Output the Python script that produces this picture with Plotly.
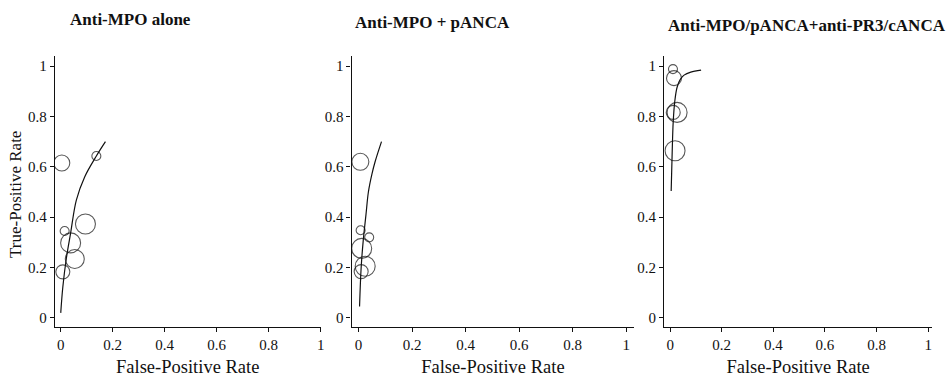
import plotly.graph_objects as go

# ---- data ----
panel_titles = ["Anti-MPO alone", "Anti-MPO + pANCA", "Anti-MPO/pANCA+anti-PR3/cANCA"]

# Panel 1: Anti-MPO alone (study points: FPR, TPR, bubble size)
p1_fpr = [0.004, 0.137, 0.015, 0.095, 0.038, 0.054, 0.008]
p1_tpr = [0.615, 0.643, 0.345, 0.373, 0.298, 0.234, 0.183]
p1_size = [16, 9, 9, 20, 20, 19, 14]
p1_curve_fpr = [0.0, 0.008, 0.022, 0.038, 0.060, 0.092, 0.137, 0.172]
p1_curve_tpr = [0.02, 0.123, 0.24, 0.337, 0.468, 0.56, 0.643, 0.70]

# Panel 2: Anti-MPO + pANCA
p2_fpr = [0.007, 0.008, 0.040, 0.012, 0.025, 0.010]
p2_tpr = [0.620, 0.348, 0.320, 0.276, 0.205, 0.184]
p2_size = [17, 9, 9, 20, 20, 14]
p2_curve_fpr = [0.004, 0.010, 0.018, 0.028, 0.037, 0.050, 0.062, 0.086]
p2_curve_tpr = [0.045, 0.20, 0.31, 0.41, 0.50, 0.57, 0.62, 0.70]

# Panel 3: Anti-MPO/pANCA + anti-PR3/cANCA
p3_fpr = [0.011, 0.015, 0.027, 0.012, 0.019]
p3_tpr = [0.988, 0.952, 0.816, 0.816, 0.664]
p3_size = [9, 15, 20, 14, 20]
p3_curve_fpr = [0.004, 0.008, 0.012, 0.018, 0.027, 0.040, 0.054, 0.080, 0.120]
p3_curve_tpr = [0.504, 0.66, 0.78, 0.86, 0.916, 0.948, 0.964, 0.976, 0.984]

x_tickvals = [0, 0.2, 0.4, 0.6, 0.8, 1]
x_ticktext = ["0", "0.2", "0.4", "0.6", "0.8", "1"]
y_tickvals = [0, 0.2, 0.4, 0.6, 0.8, 1]
y_ticktext = ["0", "0.2", "0.4", "0.6", "0.8", "1"]

W, H = 952, 379
FONT = "Liberation Serif, Times New Roman, serif"
INK = "#111111"

panels = [
    (p1_fpr, p1_tpr, p1_size, p1_curve_fpr, p1_curve_tpr),
    (p2_fpr, p2_tpr, p2_size, p2_curve_fpr, p2_curve_tpr),
    (p3_fpr, p3_tpr, p3_size, p3_curve_fpr, p3_curve_tpr),
]
# pixel layout of each panel's axes
x_dom_px = [(55, 322), (353, 637), (667, 936)]
x_ranges = [(-0.023, 1.0), (-0.026, 1.03), (-0.023, 1.015)]
y_dom_px = (56, 327)
y_range = (-0.036, 1.04)

fig = go.Figure()
layout = dict(
    width=W, height=H,
    margin=dict(l=0, r=0, t=0, b=0),
    paper_bgcolor="white", plot_bgcolor="white",
    showlegend=False,
    font=dict(family=FONT, color=INK),
)

for i, (fx, ty, sz, cx, cy) in enumerate(panels):
    n = "" if i == 0 else str(i + 1)
    xa, ya = "x" + n, "y" + n
    fig.add_trace(go.Scatter(x=cx, y=cy, mode="lines", line=dict(color=INK, width=1.2, shape="spline"),
                             xaxis=xa, yaxis=ya, hoverinfo="skip"))
    fig.add_trace(go.Scatter(x=fx, y=ty, mode="markers",
                             marker=dict(symbol="circle-open", size=sz, color=INK, line=dict(width=1.1, color=INK)),
                             xaxis=xa, yaxis=ya))
    x0, x1 = x_dom_px[i]
    layout["xaxis" + n] = dict(
        domain=[x0 / W, x1 / W], range=list(x_ranges[i]), anchor=ya,
        showline=True, linecolor=INK, linewidth=1.2, showgrid=False, zeroline=False,
        ticks="outside", ticklen=4, tickcolor=INK, tickwidth=1,
        tickvals=x_tickvals, ticktext=x_ticktext,
        tickfont=dict(family=FONT, size=15, color=INK),
        title=dict(text="False-Positive Rate", font=dict(family=FONT, size=18.5, color=INK), standoff=7),
    )
    layout["yaxis" + n] = dict(
        domain=[1 - y_dom_px[1] / H, 1 - y_dom_px[0] / H], range=list(y_range), anchor=xa,
        showline=True, linecolor=INK, linewidth=1.2, showgrid=False, zeroline=False,
        ticks="outside", ticklen=4, tickcolor=INK, tickwidth=1,
        tickvals=y_tickvals, ticktext=y_ticktext,
        tickfont=dict(family=FONT, size=15, color=INK),
    )

title_pos_px = [(131, 20), (434, 22), (810, 25)]
annotations = []
for t, (xp, yp) in zip(panel_titles, title_pos_px):
    annotations.append(dict(text="<b>" + t + "</b>", x=xp / W, y=1 - yp / H, xref="paper", yref="paper",
                            showarrow=False, xanchor="center", yanchor="middle",
                            font=dict(family=FONT, size=17, color=INK)))
annotations.append(dict(text="True-Positive Rate", textangle=-90, x=15 / W, y=1 - 194 / H,
                        xref="paper", yref="paper", showarrow=False, xanchor="center", yanchor="middle",
                        font=dict(family=FONT, size=17, color=INK)))
layout["annotations"] = annotations

fig.update_layout(**layout)
fig.write_html("out.html", config={"displayModeBar": False},
               post_script="document.body.style.margin='0';document.body.style.overflow='hidden';")
